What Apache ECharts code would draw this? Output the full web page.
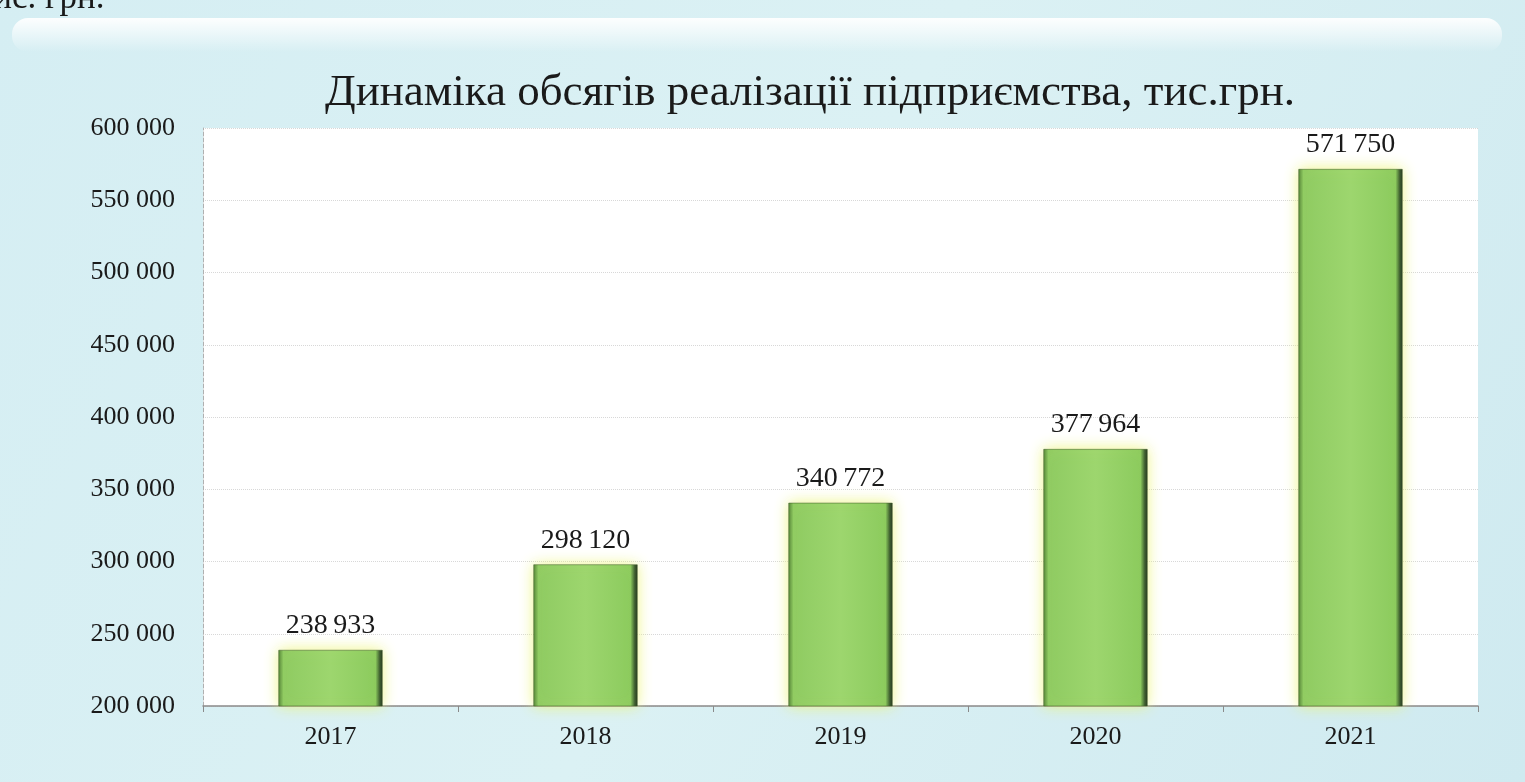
<!DOCTYPE html>
<html>
<head>
<meta charset="utf-8">
<script src="https://cdn.jsdelivr.net/npm/echarts@6/dist/echarts.min.js"></script>
<style>
html,body{margin:0;padding:0;background:#d3edf2;}
#c{width:1525px;height:782px;}
</style>
</head>
<body>
<div id="c"></div>
<script>
const categories = ['2017', '2018', '2019', '2020', '2021'];
const salesValues = [238933, 298120, 340772, 377964, 571750];
const yTicks = { min: 200000, max: 600000, interval: 50000 };
const titleText = 'Динаміка обсягів реалізації підприємства, тис.грн.';
const cornerText = 'тис. грн.';

function fmt(v, sep) {
  return String(Math.round(v)).replace(/\B(?=(\d{3})+(?!\d))/g, sep || ' ');
}

const chart = echarts.init(document.getElementById('c'));
chart.setOption({
  backgroundColor: {
    type: 'linear', x: 0, y: 0, x2: 1, y2: 1,
    colorStops: [
      { offset: 0, color: '#d5eef3' },
      { offset: 0.5, color: '#dbf1f4' },
      { offset: 1, color: '#cfeaf0' }
    ]
  },
  graphic: [
    {
      type: 'rect', left: 12, top: 18, shape: { width: 1490, height: 34, r: 16 },
      style: { fill: { type: 'linear', x: 0, y: 0, x2: 0, y2: 1,
        colorStops: [{ offset: 0, color: 'rgba(255,255,255,0.95)' }, { offset: 1, color: 'rgba(255,255,255,0)' }] } },
      z: -1
    },
    {
      type: 'text', left: -22, top: -19,
      style: { text: cornerText, font: '35px "Liberation Serif", serif', fill: '#1a1a1a' }
    }
  ],
  title: {
    text: titleText,
    left: 805, top: 66, textAlign: 'center',
    textStyle: { fontFamily: '"Liberation Serif", serif', fontSize: 45, fontWeight: 'normal', color: '#1a1a1a' }
  },
  grid: { left: 203, right: 47, top: 128, bottom: 76, show: true, backgroundColor: '#ffffff', borderWidth: 0 },
  xAxis: {
    type: 'category',
    data: categories,
    axisLine: { lineStyle: { color: '#8a8a8a', width: 1.5 } },
    axisTick: { show: true, length: 6, lineStyle: { color: '#8a8a8a' } },
    axisLabel: { fontFamily: '"Liberation Serif", serif', fontSize: 26, color: '#1a1a1a', margin: 18 }
  },
  yAxis: {
    type: 'value',
    min: yTicks.min, max: yTicks.max, interval: yTicks.interval,
    axisLine: { show: true, lineStyle: { color: '#b0b0b0', type: 'dashed' } },
    axisTick: { show: false },
    splitLine: { lineStyle: { color: '#d8d8d8', type: 'dotted' } },
    axisLabel: { fontFamily: '"Liberation Serif", serif', fontSize: 26, color: '#1a1a1a', margin: 28, formatter: v => fmt(v, ' ') }
  },
  series: [{
    type: 'bar',
    data: salesValues,
    barWidth: '41%',
    itemStyle: {
      color: {
        type: 'linear', x: 0, y: 0, x2: 1, y2: 0,
        colorStops: [
          { offset: 0, color: '#4f7f34' },
          { offset: 0.05, color: '#8fcb62' },
          { offset: 0.5, color: '#9dd66e' },
          { offset: 0.93, color: '#8ccb5e' },
          { offset: 0.97, color: '#3d5e30' },
          { offset: 1, color: '#1f2f1c' }
        ]
      },
      borderColor: 'rgba(60,90,40,0.5)',
      borderWidth: 1,
      shadowColor: 'rgba(236,244,120,0.9)',
      shadowBlur: 14
    },
    label: {
      show: true, position: 'top', distance: 10,
      fontFamily: '"Liberation Serif", serif', fontSize: 28, color: '#1a1a1a',
      formatter: p => fmt(p.value, '\u2009')
    }
  }]
});
</script>
</body>
</html>
